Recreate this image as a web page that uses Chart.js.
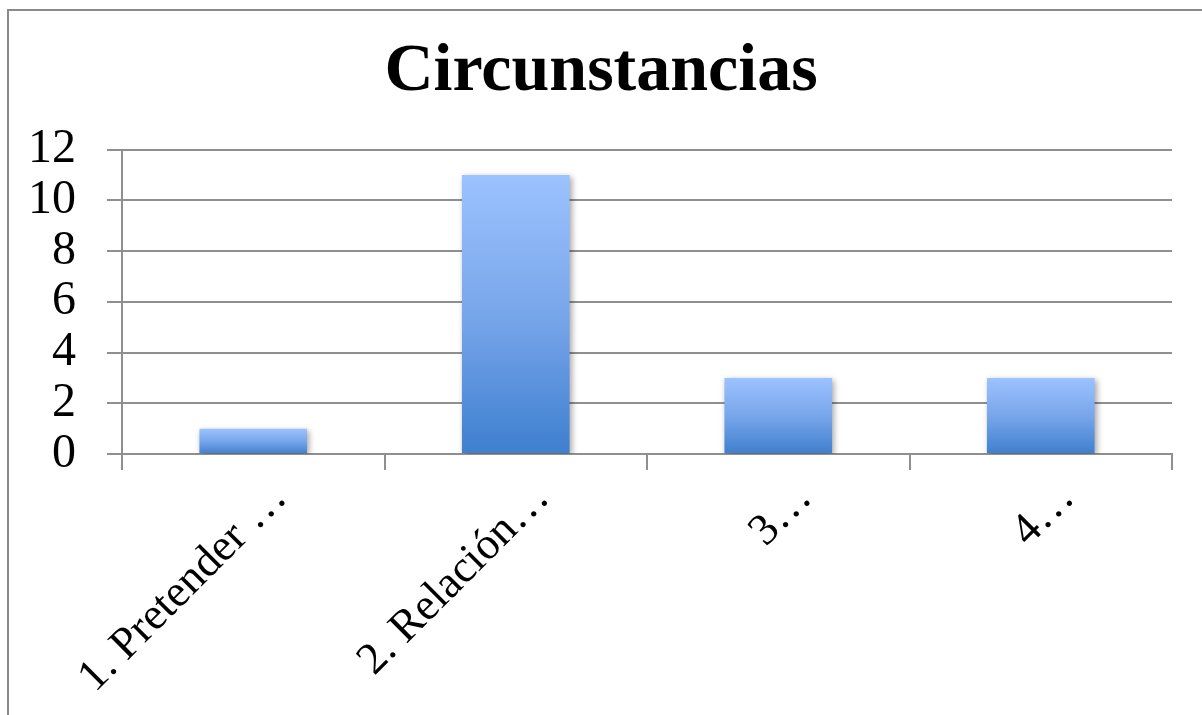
<!DOCTYPE html>
<html>
<head>
<meta charset="utf-8">
<script src="https://cdn.jsdelivr.net/npm/chart.js@4/dist/chart.umd.min.js"></script>
<style>
  html, body { margin: 0; padding: 0; background: #fff; overflow: hidden; }
  #wrap { position: relative; width: 1202px; height: 715px; overflow: hidden; }
  #frame { position: absolute; left: 7px; top: 9px; width: 1300px; height: 800px; border: 2px solid #8a8a8a; box-sizing: border-box; }
  canvas { position: absolute; left: 0; top: 0; }
</style>
</head>
<body>
<div id="wrap">
  <div id="frame"></div>
  <canvas id="c" width="1202" height="715"></canvas>
</div>
<script>
const titleText = "Circunstancias";
const categories = ["1. Pretender …", "2. Relación…", "3…", "4…"];
const values = [1, 11, 3, 3];
const yMin = 0, yMax = 12, yStep = 2;

const serif = "'Liberation Serif', 'DejaVu Serif', serif";

const shadowPlugin = {
  id: 'barShadow',
  beforeDatasetsDraw(chart) {
    const c = chart.ctx;
    c.save();
    c.shadowColor = 'rgba(0,0,0,0.35)';
    c.shadowBlur = 6;
    c.shadowOffsetX = 2;
    c.shadowOffsetY = 2;
  },
  afterDatasetsDraw(chart) { chart.ctx.restore(); }
};

new Chart(document.getElementById('c'), {
  type: 'bar',
  data: {
    labels: categories,
    datasets: [{
      data: values,
      backgroundColor(ctx) {
        const chart = ctx.chart;
        const ys = chart.scales.y;
        if (!ys || ctx.parsed === undefined) return '#6a9be6';
        const top = ys.getPixelForValue(ctx.parsed.y);
        const base = ys.getPixelForValue(0);
        if (!isFinite(top) || !isFinite(base) || top === base) return '#6a9be6';
        const g = chart.ctx.createLinearGradient(0, top, 0, base);
        g.addColorStop(0, '#9cc2ff');
        g.addColorStop(0.5, '#78a6ea');
        g.addColorStop(1, '#3e7fcf');
        return g;
      },
      borderWidth: 0,
      categoryPercentage: 0.41,
      barPercentage: 1.0
    }]
  },
  options: {
    responsive: false,
    animation: false,
    devicePixelRatio: 1,
    layout: { padding: { left: 30, right: 30, top: 0, bottom: 0 } },
    plugins: {
      legend: { display: false },
      tooltip: { enabled: false },
      title: {
        display: true,
        text: titleText,
        color: '#000',
        font: { family: serif, size: 68, weight: 'bold' },
        padding: { top: 32, bottom: 36 }
      }
    },
    scales: {
      x: {
        grid: { drawOnChartArea: false, offset: true, color: '#8f8f8f', lineWidth: 2, tickLength: 16 },
        border: { color: '#8f8f8f', width: 2 },
        ticks: {
          color: '#000',
          font: { family: serif, size: 45 },
          maxRotation: 45, minRotation: 45,
          padding: 2,
          labelOffset: 27,
          autoSkip: false
        },
        afterFit(scale) { scale.height = 715 - 454; }
      },
      y: {
        min: yMin, max: yMax,
        grid: { color: '#8f8f8f', lineWidth: 2, tickLength: 15 },
        border: { color: '#8f8f8f', width: 2 },
        ticks: {
          stepSize: yStep,
          autoSkip: false,
          color: '#000',
          font: { family: serif, size: 48 },
          padding: 31
        },
        afterFit(scale) { scale.width = 92; }
      }
    }
  },
  plugins: [shadowPlugin]
});
</script>
</body>
</html>
